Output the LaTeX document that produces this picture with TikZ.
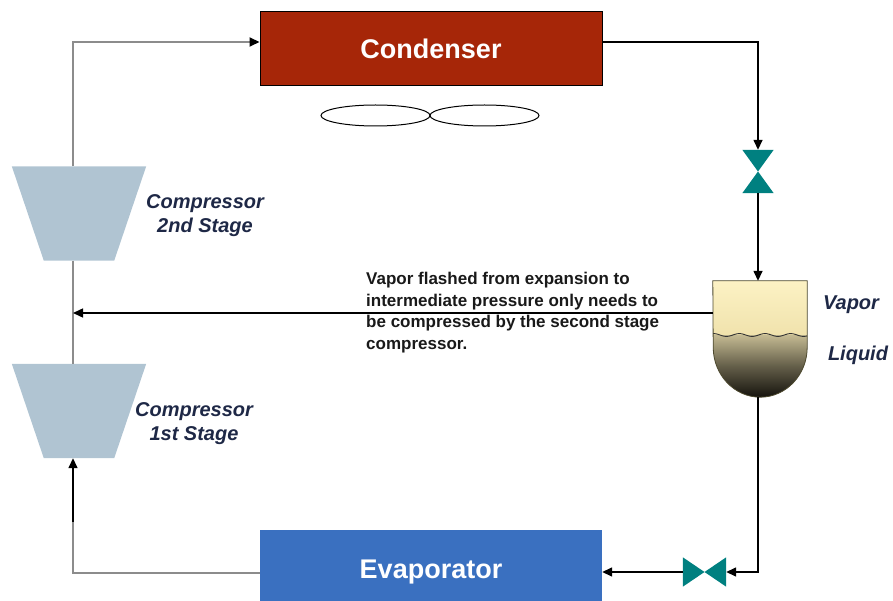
\documentclass[tikz,border=0pt]{standalone}
\usepackage{fontspec}
\setmainfont{Liberation Sans}
\usetikzlibrary{arrows.meta,positioning}

\definecolor{condred}{RGB}{166,38,8}
\definecolor{evapblue}{RGB}{58,112,192}
\definecolor{compblue}{RGB}{176,196,210}
\definecolor{valveteal}{RGB}{0,128,128}
\definecolor{pipegray}{RGB}{140,140,140}
\definecolor{labelnavy}{RGB}{30,40,70}
\definecolor{vaportop}{RGB}{252,242,196}
\definecolor{vaporbot}{RGB}{240,226,172}
\definecolor{liqtop}{RGB}{196,186,146}
\definecolor{liqbot}{RGB}{22,20,14}

\tikzset{
  hxbox/.style={rectangle, minimum width=342pt, inner sep=0pt, text=white,
    font=\fontsize{27}{30}\selectfont\bfseries},
  compbody/.style={rectangle, minimum width=134pt, minimum height=94pt, inner sep=0pt},
  valvebody/.style={rectangle, inner sep=0pt},
  complabel/.style={align=center, text=labelnavy,
    font=\fontsize{20}{24}\selectfont\bfseries\itshape},
  note/.style={align=left, inner sep=0pt, text=black!90,
    font=\fontsize{17}{21.5}\selectfont\bfseries},
  gasline/.style={draw=pipegray, line width=2pt},
  liqline/.style={draw=black, line width=1.5pt},
  fan/.style={draw=black, line width=1pt},
}

\begin{document}
\begin{tikzpicture}[x=1pt,y=-1pt,>={Triangle[length=10pt,width=9pt]}]
  \useasboundingbox (0,0) rectangle (893,601);
  % heat exchangers
  \node[hxbox, fill=condred, draw=black, line width=1pt, minimum height=74pt] (cond) at (431,49) {Condenser};
  \node[hxbox, fill=evapblue, minimum height=84pt] (evap) at (431,572) {Evaporator};
  % condenser fans
  \draw[fan] (375.5,115.5) ellipse [x radius=54.5pt, y radius=10.5pt];
  \draw[fan] (484.5,115.5) ellipse [x radius=54.5pt, y radius=10.5pt];
  % compressors
  \node[compbody] (comp2) at (79,213.5) {};
  \node[compbody] (comp1) at (79,411) {};
  \foreach \c in {comp2,comp1}{%
    \fill[compblue] (\c.north west) -- (\c.north east) -- ([xshift=-32pt]\c.south east)
      -- ([xshift=32pt]\c.south west) -- cycle;}
  \node[complabel] (lab2) at (205,216) {Compressor\\2nd Stage};
  \node[complabel] (lab1) at (194,424) {Compressor\\1st Stage};
  % discharge and suction side
  \coordinate (spine) at (73,0);
  \coordinate (suct) at (73,522);
  \coordinate (condin) at ([yshift=7pt]cond.west);
  \coordinate (condout) at ([yshift=7pt]cond.east);
  \coordinate (evapout) at ([yshift=-1pt]evap.west);
  \draw[gasline, -{Triangle[length=10pt,width=9pt,color=black]}] (comp2.north -| spine) |- (condin);
  \draw[gasline] (comp2.south -| spine) -- (comp1.north -| spine);
  \draw[gasline] (evapout) -| (suct);
  \draw[liqline, ->] (suct) -- (comp1.south -| spine);
  % expansion valves
  \node[valvebody, minimum width=31pt, minimum height=43pt] (xv1) at (758,171.5) {};
  \fill[valveteal] (xv1.north west) -- (xv1.north east) -- (xv1.south west) -- (xv1.south east) -- cycle;
  \node[valvebody, minimum width=43pt, minimum height=29pt] (xv2) at (704.5,572) {};
  \fill[valveteal] (xv2.north west) -- (xv2.south west) -- (xv2.north east) -- (xv2.south east) -- cycle;
  % flash tank
  \node[rectangle, minimum width=94pt, minimum height=116pt, inner sep=0pt] (tank) at (760,339) {};
  \begin{scope}
    \clip (tank.north west) -- (tank.north east) -- ([yshift=50pt]tank.south east)
      arc[start angle=0, end angle=-180, x radius=47pt, y radius=50pt] -- cycle;
    \shade[top color=vaportop, bottom color=vaporbot] (713,281) rectangle (807,336);
    \shade[top color=liqtop, bottom color=liqbot, middle color=liqtop!45!liqbot] (713,335) rectangle (807,397);
  \end{scope}
  \draw[line width=0.9pt, black!80] plot[domain=713:807, samples=80, smooth] (\x, {335+1.4*sin(\x*14)});
  \draw[line width=0.8pt, black!60!olive] (tank.north west) -- (tank.north east) -- ([yshift=50pt]tank.south east)
    arc[start angle=0, end angle=-180, x radius=47pt, y radius=50pt] -- cycle;
  \node[complabel] (vap) at (851,305) {Vapor};
  \node[complabel] (liq) at (858,355) {Liquid};
  % liquid line
  \draw[liqline, ->] (condout) -| (xv1.north);
  \draw[liqline, ->] (xv1.south) -- (xv1.south |- tank.north);
  \draw[liqline, ->] (xv1 |- tank.south) |- (xv2.east);
  \draw[liqline, ->] (xv2.west) -- (xv2.west -| evap.east);
  % flash gas to intermediate stage
  \coordinate (flash) at ([yshift=26pt]tank.west);
  \draw[liqline, ->] (flash) -- (flash -| spine);
  \node[note, anchor=north west] (txt) at (366,272) {Vapor flashed from expansion to\\
    intermediate pressure only needs to\\be compressed by the second stage\\compressor.};
\end{tikzpicture}
\end{document}
